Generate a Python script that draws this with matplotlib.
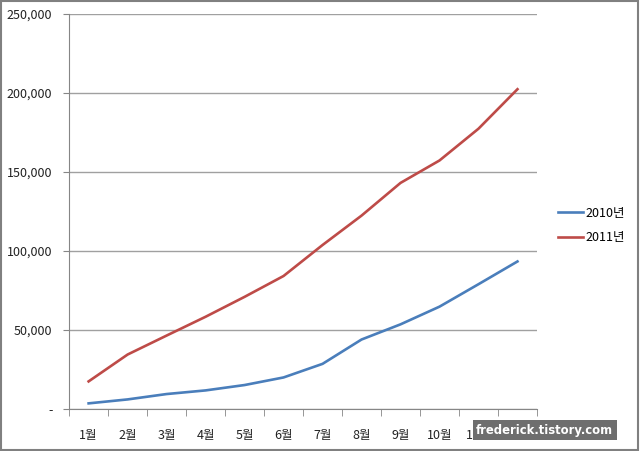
import matplotlib.pyplot as plt
from matplotlib.patches import Rectangle

plt.rcParams['font.family'] = ['Noto Sans CJK KR', 'DejaVu Sans']

months = ['1월', '2월', '3월', '4월', '5월', '6월', '7월', '8월', '9월', '10월', '11월', '12월']
sales_2010 = [3600, 6100, 9500, 11800, 15200, 20000, 28600, 44000, 53600, 64800, 79000, 93400]
sales_2011 = [17500, 34500, 46500, 58400, 71000, 84200, 103800, 122400, 143100, 157300, 177400, 202400]
y_ticks = [0, 50000, 100000, 150000, 200000, 250000]
y_labels = ['-', '50,000', '100,000', '150,000', '200,000', '250,000']

fig = plt.figure(figsize=(6.4, 4.51), dpi=100)
ax = fig.add_axes([0.108, 0.093, 0.731, 0.876])

x = range(len(months))
ax.plot(x, sales_2010, color='#4A7EBB', linewidth=1.9, label='2010년')
ax.plot(x, sales_2011, color='#BE4B48', linewidth=1.9, label='2011년')

ax.set_xlim(-0.5, len(months) - 0.5)
ax.set_ylim(0, 250000)
ax.set_yticks(y_ticks)
ax.set_yticklabels(y_labels)
ax.set_xticks(list(x))
ax.set_xticklabels(months)
ax.set_xticks([i - 0.5 for i in range(len(months) + 1)], minor=True)

ax.tick_params(axis='x', which='major', length=0, pad=14, labelsize=9, colors='#222222')
ax.tick_params(axis='x', which='minor', length=5, color='#868686', direction='out')
ax.tick_params(axis='y', length=4, color='#868686', pad=8, labelsize=9, labelcolor='#222222')

ax.grid(axis='y', color='#A0A0A0', linewidth=1)
ax.set_axisbelow(True)
for s in ['top', 'right']:
    ax.spines[s].set_visible(False)
for s in ['left', 'bottom']:
    ax.spines[s].set_color('#868686')

ax.legend(loc='center left', bbox_to_anchor=(1.02, 0.465), frameon=False,
          fontsize=9, handlelength=2.0, handletextpad=0.2, labelspacing=0.9)

# watermark (covers part of the last tick labels, as in the source image)
fig.text(0.958, 0.046, 'frederick.tistory.com', ha='right', va='center',
         color='white', fontsize=8.4, fontweight='bold', family='DejaVu Sans',
         bbox=dict(facecolor='#6E6E6E', edgecolor='none', pad=2.5))

# outer border
fig.patches.append(Rectangle((0.002, 0.003), 0.995, 0.994, transform=fig.transFigure,
                             fill=False, edgecolor='#808080', linewidth=1.5))

fig.savefig('out.png', dpi=100)
